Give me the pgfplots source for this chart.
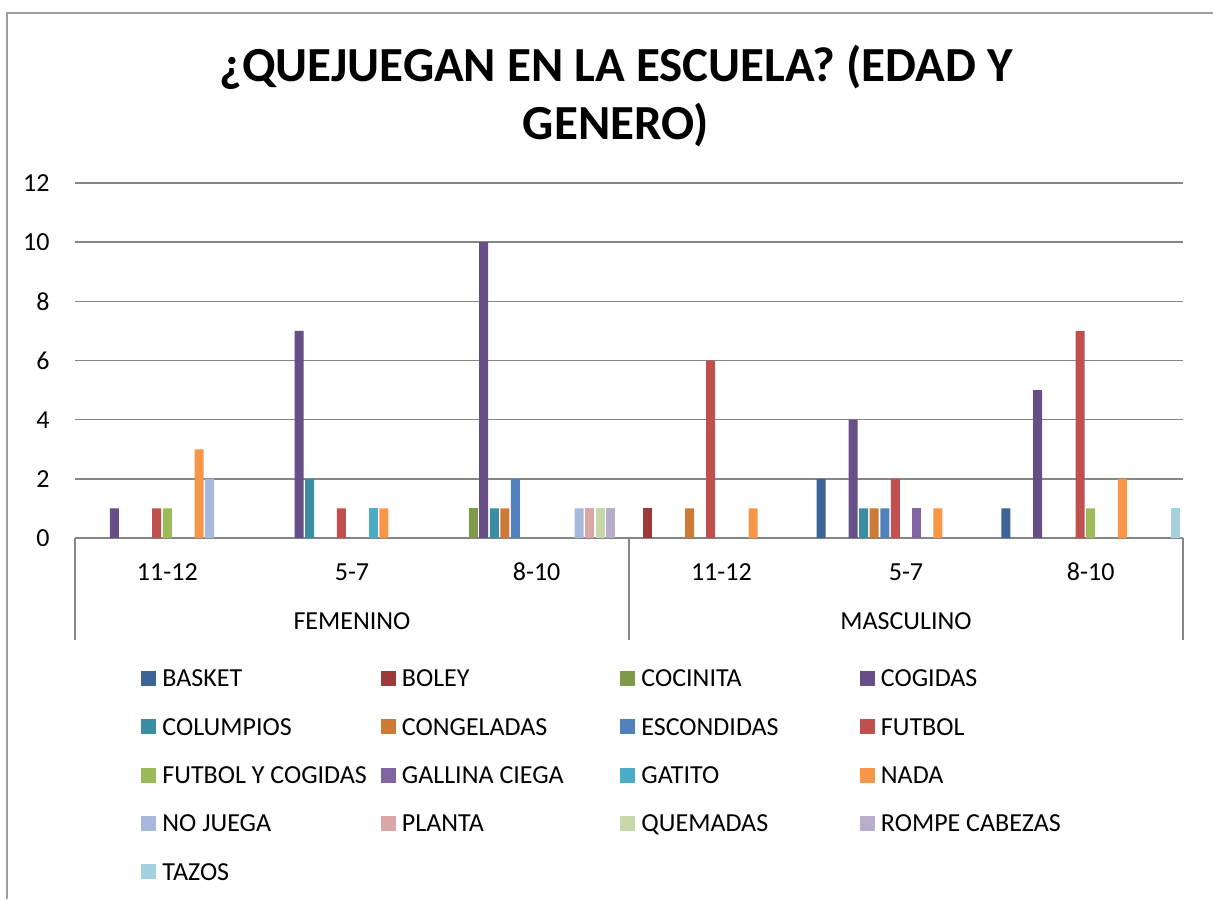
\documentclass[border=0pt]{standalone}
\usepackage{pgfplots}
\pgfplotsset{compat=1.18}
\usepackage{fontspec}
\setmainfont{Carlito}
\definecolor{c1}{HTML}{3C6496}
\definecolor{c2}{HTML}{9A3B39}
\definecolor{c3}{HTML}{7E9A48}
\definecolor{c4}{HTML}{664F86}
\definecolor{c5}{HTML}{3A8DA3}
\definecolor{c6}{HTML}{CC7A35}
\definecolor{c7}{HTML}{4F81BD}
\definecolor{c8}{HTML}{C0504D}
\definecolor{c9}{HTML}{9BBB59}
\definecolor{c10}{HTML}{8064A2}
\definecolor{c11}{HTML}{4BACC6}
\definecolor{c12}{HTML}{F79646}
\definecolor{c13}{HTML}{A7B9DA}
\definecolor{c14}{HTML}{DBA7A6}
\definecolor{c15}{HTML}{C6D8A9}
\definecolor{c16}{HTML}{B8AECC}
\definecolor{c17}{HTML}{A5D0DF}
\definecolor{gridgray}{HTML}{868686}
\newcommand{\legE}[1]{\makebox[112.25pt][l]{\hspace{3pt}#1}}
\begin{document}
\begin{tikzpicture}
\useasboundingbox (0pt,0pt) rectangle (606.5pt,-449.5pt);
% chart frame
\draw[gridgray!80, line width=0.75pt] (3.5pt,-449.5pt) -- (3.5pt,-6.5pt) -- (606.5pt,-6.5pt);
% title
\node[anchor=base, inner sep=0pt, font=\fontsize{24.5}{29}\selectfont\bfseries] at (308pt,-41pt)
  {¿QUEJUEGAN EN LA ESCUELA? (EDAD Y};
\node[anchor=base, inner sep=0pt, font=\fontsize{24.5}{29}\selectfont\bfseries] at (308pt,-70pt)
  {GENERO)};
\begin{axis}[
  at={(37.5pt,-269pt)}, anchor=south west,
  scale only axis, width=554pt, height=177.5pt,
  xmin=-0.5, xmax=5.5, ymin=0, ymax=12,
  ybar=0.8pt, bar width=4.5pt,
  clip=false,
  axis lines*=left,
  y axis line style={draw=none},
  x axis line style={draw=gridgray, line width=0.75pt},
  ymajorgrids, grid style={draw=gridgray, line width=0.75pt},
  major tick length=0pt,
  ytick={0,2,...,12},
  xtick={0,1,2,3,4,5},
  xticklabels={11-12,5-7,8-10,11-12,5-7,8-10},
  tick label style={font=\fontsize{13}{15}\selectfont},
  /pgf/number format/assume math mode=true,
  yticklabel style={anchor=east, inner sep=0pt, xshift=-12.5pt},
  xticklabel style={anchor=center, inner sep=0pt, yshift=-17pt},
  legend columns=4,
  legend cell align=left,
  legend style={at={(0.0596,-0.3707)}, anchor=north west, draw=none, fill=none,
    inner sep=0pt, row sep=15.75pt, column sep=0pt,
    font=\fontsize{13}{15}\selectfont,
    nodes={inner sep=0pt, text height=8.4pt, text depth=0pt},
    cells={anchor=west}},
  legend image code/.code={\draw[#1, draw=none] (0pt,-3.75pt) rectangle (7.5pt,3.75pt);},
  every axis plot/.append style={draw=none},
]
\addplot[fill=c1] coordinates {(4,2) (5,1)};
\addplot[fill=c2] coordinates {(3,1)};
\addplot[fill=c3] coordinates {(2,1)};
\addplot[fill=c4] coordinates {(0,1) (1,7) (2,10) (4,4) (5,5)};
\addplot[fill=c5] coordinates {(1,2) (2,1) (4,1)};
\addplot[fill=c6] coordinates {(2,1) (3,1) (4,1)};
\addplot[fill=c7] coordinates {(2,2) (4,1)};
\addplot[fill=c8] coordinates {(0,1) (1,1) (3,6) (4,2) (5,7)};
\addplot[fill=c9] coordinates {(0,1) (5,1)};
\addplot[fill=c10] coordinates {(4,1)};
\addplot[fill=c11] coordinates {(1,1)};
\addplot[fill=c12] coordinates {(0,3) (1,1) (3,1) (4,1) (5,2)};
\addplot[fill=c13] coordinates {(0,2) (2,1)};
\addplot[fill=c14] coordinates {(2,1)};
\addplot[fill=c15] coordinates {(2,1)};
\addplot[fill=c16] coordinates {(2,1)};
\addplot[fill=c17] coordinates {(5,1)};
\legend{\legE{BASKET},\legE{BOLEY},\legE{COCINITA},\legE{COGIDAS},
\legE{COLUMPIOS},\legE{CONGELADAS},\legE{ESCONDIDAS},\legE{FUTBOL},
\legE{FUTBOL Y COGIDAS},\legE{GALLINA CIEGA},\legE{GATITO},\legE{NADA},
\legE{NO JUEGA},\legE{PLANTA},\legE{QUEMADAS},\legE{ROMPE CABEZAS},
\legE{TAZOS}}
% group dividers and labels
\draw[gridgray, line width=0.75pt] (axis cs:-0.5,0) -- ++(0pt,-51pt);
\draw[gridgray, line width=0.75pt] (axis cs:2.5,0) -- ++(0pt,-51pt);
\draw[gridgray, line width=0.75pt] (axis cs:5.5,0) -- ++(0pt,-51pt);
\node[font=\fontsize{13}{15}\selectfont, inner sep=0pt] at ([yshift=-41.5pt]axis cs:1,0) {FEMENINO};
\node[font=\fontsize{13}{15}\selectfont, inner sep=0pt] at ([yshift=-41.5pt]axis cs:4,0) {MASCULINO};
\end{axis}
\end{tikzpicture}
\end{document}
